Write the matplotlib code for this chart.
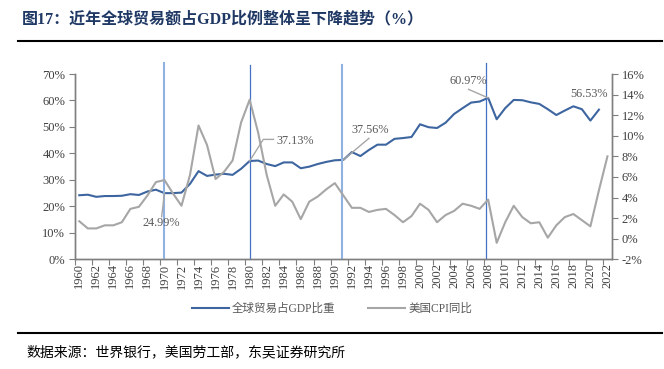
import matplotlib.pyplot as plt
from matplotlib.lines import Line2D
from matplotlib.ticker import FuncFormatter, MultipleLocator, FixedLocator
import numpy as np

years = list(range(1960, 2023))

# global trade, % of GDP (1960-2021)
trade_gdp = [24.2, 24.4, 23.6, 23.9, 23.9, 24.0, 24.6, 24.3, 25.6, 26.3,
             24.99, 25.0, 25.2, 28.5, 33.3, 31.5, 32.0, 32.3, 31.9, 34.2,
             37.13, 37.3, 36.0, 35.2, 36.6, 36.6, 34.4, 35.0, 36.0, 36.8,
             37.4, 37.56, 40.5, 39.0, 41.3, 43.3, 43.3, 45.5, 45.8, 46.2,
             51.0, 49.9, 49.6, 51.6, 54.9, 57.1, 59.2, 59.6, 60.97, 52.9,
             57.1, 60.2, 60.1, 59.3, 58.7, 56.7, 54.5, 56.2, 57.8, 56.7,
             52.4, 56.53]

# US CPI yoy, % (1960-2022)
us_cpi = [1.7, 1.0, 1.0, 1.3, 1.3, 1.6, 2.9, 3.1, 4.2, 5.5,
          5.7, 4.4, 3.2, 6.2, 11.0, 9.1, 5.8, 6.5, 7.6, 11.3,
          13.5, 10.3, 6.2, 3.2, 4.3, 3.6, 1.9, 3.6, 4.1, 4.8,
          5.4, 4.2, 3.0, 3.0, 2.6, 2.8, 2.9, 2.3, 1.6, 2.2,
          3.4, 2.8, 1.6, 2.3, 2.7, 3.4, 3.2, 2.9, 3.8, -0.4,
          1.6, 3.2, 2.1, 1.5, 1.6, 0.1, 1.3, 2.1, 2.4, 1.8,
          1.2, 4.7, 8.0]

# vertical marker lines: year, colour, width
event_years = [1970, 1980, 1990.8, 2007.8]
event_colors = ['#8fb2e3', '#4472c4', '#8fb2e3', '#4472c4']
event_widths = [1.5, 0.9, 1.5, 0.9]
event_tops = [74.3, 73.4, 73.4, 74.2]

# labels: (text, text x, text y, leader points)
labels = [
    ('24.99%', 1969.65, 13.6, [(1969.67, 16.1), (1970, 24.99)], 'center'),
    ('37.13%', 1983.2, 44.8, [(1980, 37.13), (1981.6, 45.3), (1982.8, 45.3)], 'left'),
    ('37.56%', 1994.1, 48.9, [(1991, 37.56), (1994.0, 45.7)], 'center'),
    ('60.97%', 2005.7, 67.4, [(2005.7, 64.2), (2008, 60.97)], 'center'),
    ('56.53%', 2019.8, 62.6, [], 'center'),
]

serif = ['Liberation Serif', 'Noto Sans CJK SC']
cjk = ['Liberation Serif', 'Noto Sans CJK SC']
blue = '#3d65a0'
gray = '#a6a6a6'
axc = '#7f7f7f'

fig = plt.figure(figsize=(6.64, 3.69), dpi=100)
ax = fig.add_axes([75 / 664, 1 - 259.3 / 369, 536.7 / 664, 185.3 / 369])
ax2 = ax.twinx()

l1, = ax.plot(years[:len(trade_gdp)], trade_gdp, color=blue, lw=1.5, zorder=3)
l2, = ax2.plot(years, us_cpi, color=gray, lw=1.5, zorder=3)

for x, c, w, t in zip(event_years, event_colors, event_widths, event_tops):
    ax.plot([x, x], [0, t], color=c, lw=w, clip_on=False, zorder=4)

for txt, tx, ty, pts, ha in labels:
    if pts:
        xs, ys = zip(*pts)
        ax.plot(xs, ys, color='#a6a6a6', lw=1.0, zorder=4, clip_on=False)
    ax.text(tx, ty, txt, ha=ha, va='center', fontsize=8.8, color='#595959',
            family=serif, zorder=5)

ax.set_xlim(1959.5, 2022.5)
ax.set_ylim(0, 70)
ax2.set_ylim(-2, 16)
ax.yaxis.set_major_locator(MultipleLocator(10))
ax2.yaxis.set_major_locator(MultipleLocator(2))
pct = FuncFormatter(lambda v, p: '%d%%' % round(v))
ax.yaxis.set_major_formatter(pct)
ax2.yaxis.set_major_formatter(pct)

# tick marks at category boundaries, labels at category centres
ax.xaxis.set_major_locator(FixedLocator(np.arange(1959.5, 2023, 2)))
ax.xaxis.set_major_formatter(FuncFormatter(lambda v, p: ''))
ax.xaxis.set_minor_locator(FixedLocator(years[::2]))
ax.xaxis.set_minor_formatter(FuncFormatter(lambda v, p: '%d' % v))
ax.tick_params(axis='x', which='major', direction='out', length=4, color=axc, width=0.8)
ax.tick_params(axis='x', which='minor', length=0, pad=3, labelsize=9, labelrotation=90)
ax.tick_params(axis='y', direction='out', length=4, color=axc, width=0.8, labelsize=9, pad=3)
ax2.tick_params(axis='y', direction='out', length=4, color=axc, width=0.8, labelsize=9, pad=3)
for lab in ax.get_xticklabels(minor=True) + ax.get_yticklabels() + ax2.get_yticklabels():
    lab.set_family(serif)
    lab.set_color('#404040')

for a in (ax, ax2):
    a.spines['top'].set_visible(False)
    for s in ('left', 'right', 'bottom'):
        a.spines[s].set_color(axc)
        a.spines[s].set_linewidth(1.0)

leg = fig.legend([l1, l2], ['全球贸易占GDP比重', '美国CPI同比'], loc='center',
                 bbox_to_anchor=(0.5, 1 - 309 / 369), ncol=2, frameon=False,
                 handlelength=3.2, columnspacing=2.8, handletextpad=0.3,
                 prop={'family': cjk, 'size': 8.3})
for t in leg.get_texts():
    t.set_color('#595959')

fig.text(22 / 664, 1 - 19 / 369, '图17：近年全球贸易额占GDP比例整体呈下降趋势（%）',
         fontsize=11.5, fontweight='bold', color='#1f3864', family=cjk, va='center')
fig.add_artist(Line2D([18 / 664, 662 / 664], [1 - 41 / 369, 1 - 41 / 369], color='black', lw=1.5))
fig.add_artist(Line2D([18 / 664, 662 / 664], [1 - 333 / 369, 1 - 333 / 369], color='black', lw=1.5))
fig.text(26 / 664, 1 - 352 / 369, '数据来源：世界银行，美国劳工部，东吴证券研究所',
         fontsize=10, color='black', family=cjk, va='center')

fig.savefig('out.png', dpi=100)
